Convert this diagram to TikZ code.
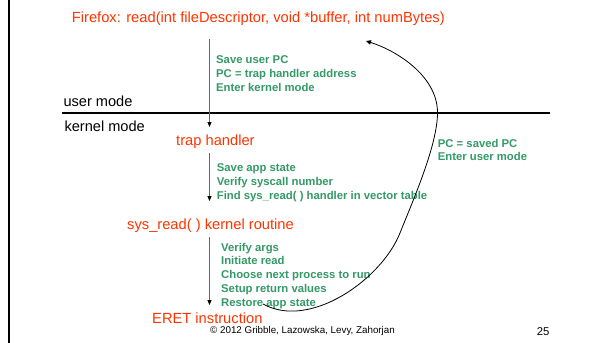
\documentclass[tikz,border=0pt]{standalone}
\usepackage{fontspec}
\setmainfont{Liberation Sans}
\usetikzlibrary{arrows.meta}
\definecolor{hdred}{HTML}{FF3300}
\definecolor{hdgreen}{HTML}{339966}
\begin{document}
\begin{tikzpicture}[x=1pt,y=-1pt,
  redtxt/.style={font=\fontsize{14.7}{16}\selectfont, text=hdred, inner sep=0pt, anchor=base west},
  greentxt/.style={font=\fontsize{11.3}{13}\selectfont\bfseries, text=hdgreen, inner sep=0pt, anchor=base west},
  blacktxt/.style={font=\fontsize{14.6}{16}\selectfont, inner sep=0pt, anchor=base west},
  smalltxt/.style={font=\fontsize{9.8}{11}\selectfont, inner sep=0pt, anchor=base west},
  flowarrow/.style={draw=black!60, line width=0.9pt, -{Triangle[length=5pt,width=4pt,color=black]}},
  curvearrow/.style={draw=black, line width=0.8pt, -{Triangle[length=5pt,width=4.5pt]}},
  modeline/.style={draw=black, line width=2pt},
  frameline/.style={draw=black, line width=2.3pt}]
\useasboundingbox (0,0) rectangle (590,343);
\draw[frameline] (9,0) -- (9,343);

\node[redtxt] (title) at (71.7,22.7) {Firefox: read(int fileDescriptor, void *buffer, int numBytes)};

\node[greentxt] (g1a) at (216,63.7) {Save user PC};
\node[greentxt] (g1b) at (216,77.7) {PC = trap handler address};
\node[greentxt] (g1c) at (216,91.7) {Enter kernel mode};

\node[blacktxt] (user) at (63.3,106) {user mode};
\coordinate (lineL) at (62,112.7);
\coordinate (lineR) at (550,112.7);
\draw[modeline] (lineL) -- (lineR);
\node[blacktxt] (kernel) at (64.3,131) {kernel mode};

\node[redtxt] (trap) at (176,145.3) {trap handler};

\node[greentxt] (g2a) at (216.7,171.7) {Save app state};
\node[greentxt] (g2b) at (216.7,185.7) {Verify syscall number};
\node[greentxt] (g2c) at (216.7,199.7) {Find sys\_read( ) handler in vector table};

\node[redtxt] (sysread) at (127,229) {sys\_read( ) kernel routine};

\node[greentxt] (g3a) at (221,251) {Verify args};
\node[greentxt] (g3b) at (221,264.75) {Initiate read};
\node[greentxt] (g3c) at (221,278.5) {Choose next process to run};
\node[greentxt] (g3d) at (221,292.25) {Setup return values};
\node[greentxt] (g3e) at (221,306) {Restore app state};

\node[redtxt] (eret) at (152,323) {ERET instruction};

\node[greentxt] (r1) at (437.7,147.3) {PC = saved PC};
\node[greentxt] (r2) at (437.7,160.7) {Enter user mode};

\node[smalltxt] (copy) at (210,333.5) {© 2012 Gribble, Lazowska, Levy, Zahorjan};
\node[font=\fontsize{11.3}{13}\selectfont, inner sep=0pt, anchor=base west] (page) at (536.7,335) {25};

\coordinate (a1s) at (209.5,39);
\coordinate (a1e) at (209.5,127);
\coordinate (a2s) at (209.5,153);
\coordinate (a2e) at (209.5,201);
\coordinate (a3s) at (209.5,237);
\coordinate (a3e) at (209.5,305);
\draw[flowarrow] (a1s) -- (a1e);
\draw[flowarrow] (a2s) -- (a2e);
\draw[flowarrow] (a3s) -- (a3e);

\coordinate (cstart) at (263,304);
\coordinate (cmid1) at (400,233);
\coordinate (cmid2) at (437.5,112);
\coordinate (cend) at (366,41);
\draw[curvearrow] (cstart) .. controls (310,330) and (381.5,279.5) .. (cmid1)
  .. controls (411,205) and (438,145) .. (cmid2)
  .. controls (437,75) and (395,50) .. (cend);
\end{tikzpicture}
\end{document}
